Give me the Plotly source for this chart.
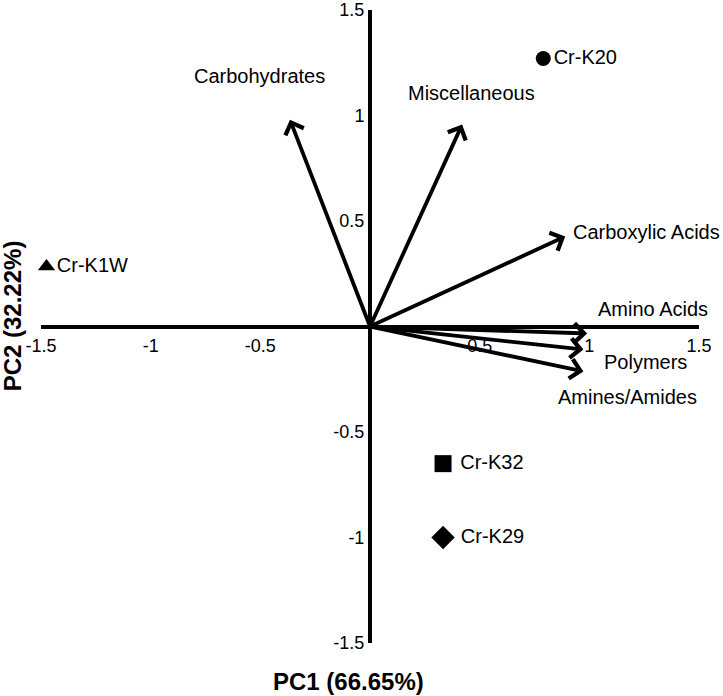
import plotly.graph_objects as go

# Loadings (arrow tips)
loading_names = ["Carbohydrates", "Miscellaneous", "Carboxylic Acids",
                 "Amino Acids", "Polymers", "Amines/Amides"]
loading_pc1 = [-0.365, 0.42, 0.89, 0.99, 0.973, 0.973]
loading_pc2 = [0.98, 0.957, 0.427, -0.033, -0.109, -0.213]
# label anchor positions (data units)
label_pc1 = [-0.502, 0.461, 1.262, 1.292, 1.256, 1.174]
label_pc2 = [1.185, 1.109, 0.45, 0.081, -0.166, -0.336]

# Sample scores
sample_names = ["Cr-K20", "Cr-K1W", "Cr-K32", "Cr-K29"]
sample_pc1 = [0.79, -1.475, 0.333, 0.333]
sample_pc2 = [1.27, 0.284, -0.65, -1.0]
sample_symbols = ["circle", "triangle-up", "square", "diamond"]
sample_sizes = [15, 15, 17, 18]
sample_text = ["Cr-K20", "Cr-K1W", " Cr-K32", " Cr-K29"]

tick_vals = [-1.5, -1, -0.5, 0.5, 1, 1.5]
tick_text = ["-1.5", "-1", "-0.5", "0.5", "1", "1.5"]

FONT = "Liberation Sans, Arial, sans-serif"

fig = go.Figure()

fig.add_trace(go.Scatter(
    x=sample_pc1, y=sample_pc2, mode="markers+text",
    text=sample_text, textposition="middle right",
    textfont=dict(family=FONT, size=20, color="black"),
    marker=dict(symbol=sample_symbols, size=sample_sizes, color="black",
                opacity=1, line=dict(width=0)),
    cliponaxis=False, showlegend=False, hoverinfo="skip"))

annotations = []
for name, x, y, lx, ly in zip(loading_names, loading_pc1, loading_pc2, label_pc1, label_pc2):
    annotations.append(dict(
        x=x, y=y, ax=0, ay=0, xref="x", yref="y", axref="x", ayref="y",
        text="", showarrow=True, arrowhead=4, arrowsize=1, arrowwidth=3.8,
        arrowcolor="black", standoff=0, startstandoff=0))
    annotations.append(dict(
        x=lx, y=ly, xref="x", yref="y", text=name, showarrow=False,
        xanchor="center", yanchor="middle",
        font=dict(family=FONT, size=20, color="black")))

annotations.append(dict(
    x=0.468, y=-0.0616, xref="paper", yref="paper", text="<b>PC1 (66.65%)</b>",
    showarrow=False, xanchor="center", yanchor="middle",
    font=dict(family=FONT, size=24, color="black")))
annotations.append(dict(
    x=-0.042, y=0.5166, xref="paper", yref="paper", text="<b>PC2 (32.22%)</b>",
    showarrow=False, xanchor="center", yanchor="middle", textangle=-90,
    font=dict(family=FONT, size=24, color="black")))

fig.update_layout(
    width=723, height=696,
    margin=dict(l=41, r=24, t=10, b=53, autoexpand=False),
    plot_bgcolor="white", paper_bgcolor="white",
    showlegend=False,
    annotations=annotations,
    xaxis=dict(range=[-1.5, 1.5], anchor="free", position=0.5,
               showline=True, linewidth=4, linecolor="black",
               showgrid=False, zeroline=False, automargin=False,
               tickvals=tick_vals, ticktext=tick_text, ticks="",
               ticklabelstandoff=2, layer="below traces",
               ticklabeloverflow="allow",
               tickfont=dict(family=FONT, size=18, color="black")),
    yaxis=dict(range=[-1.5, 1.5], anchor="free", position=0.5,
               showline=True, linewidth=4, linecolor="black",
               showgrid=False, zeroline=False, automargin=False,
               tickvals=tick_vals, ticktext=tick_text, ticks="",
               ticklabelstandoff=0, layer="below traces",
               ticklabeloverflow="allow",
               tickfont=dict(family=FONT, size=18, color="black")),
)

fig.write_html("out.html", config={"displayModeBar": False},
               post_script="document.body.style.margin='0';")
